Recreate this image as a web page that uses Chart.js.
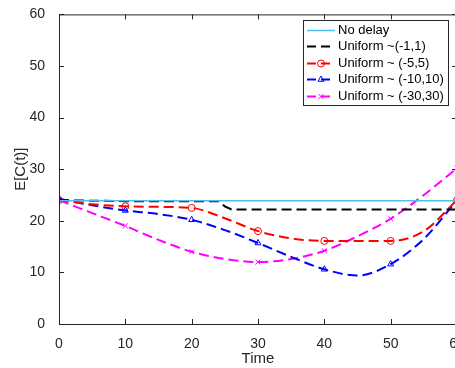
<!DOCTYPE html>
<html>
<head>
<meta charset="utf-8">
<script src="https://cdn.jsdelivr.net/npm/chart.js@4/dist/chart.umd.min.js"></script>
<style>
html,body{margin:0;padding:0;background:#fff;overflow:hidden}
#wrap{width:470px;height:368px}
</style>
</head>
<body>
<div id="wrap"><canvas id="chart" width="470" height="368"></canvas></div>
<script>
// values
const times=[0,5,10,15,20,25,30,35,40,45,50,55,60];
const noDelay=[23.9,23.9,23.9,23.9,23.9,23.9,23.9,23.9,23.9,23.9,23.9,23.9,23.9];
const blackTimes=[0,10,20,24,25,26,30,40,50,60];
const uniform1=[24,23.8,23.8,23.8,22.8,22.2,22.2,22.2,22.2,22.2];
const uniform5=[24,23.2,22.8,22.7,22.5,20.5,18,16.6,16.1,16.1,16.1,18,24];
const uniform10=[24.3,23,22,21.3,20.2,18.2,15.7,13,10.6,9.4,11.6,16.5,24];
const uniform30=[24,21.5,19,16.3,14,12.6,12,12.6,14.2,17,20.4,25,30.2];
const xTicks=[0,10,20,30,40,50,60];
const yTicks=[0,10,20,30,40,50,60];

const FONT="'Liberation Sans', Arial, Helvetica, sans-serif";
const AXIS="#262626";

function pts(xs,ys){
const out=[];
for(let i=0;i<xs.length;i++) out.push({x:xs[i],y:ys[i]});
return out;
}

function markAt(ctx){
const p=ctx.raw;
if(!p) return 0;
return (p.x%10===0)?3.5:0;
}

const datasets=[
{label:"No delay",data:pts(times,noDelay),borderColor:"#4DBEEE",borderWidth:1.5,pointRadius:0,tension:0},
{label:"Uniform ~(-1,1)",data:pts(blackTimes,uniform1),borderColor:"#000000",borderWidth:2,borderDash:[10,5],pointRadius:0,tension:0},
{label:"Uniform ~ (-5,5)",data:pts(times,uniform5),borderColor:"#FF0000",borderWidth:2,borderDash:[10,5],pointStyle:"circle",pointRadius:markAt,pointBorderColor:"#FF0000",pointBackgroundColor:"rgba(0,0,0,0)",pointBorderWidth:1,tension:0.4,cubicInterpolationMode:"monotone"},
{label:"Uniform ~ (-10,10)",data:pts(times,uniform10),borderColor:"#0000FF",borderWidth:2,borderDash:[10,5],pointStyle:"triangle",pointRadius:markAt,pointBorderColor:"#0000FF",pointBackgroundColor:"rgba(0,0,0,0)",pointBorderWidth:1,tension:0.4,cubicInterpolationMode:"monotone"},
{label:"Uniform ~ (-30,30)",data:pts(times,uniform30),borderColor:"#FF00FF",borderWidth:2,borderDash:[10,5],pointStyle:"crossRot",pointRadius:markAt,pointBorderColor:"#FF00FF",pointBackgroundColor:"rgba(0,0,0,0)",pointBorderWidth:1,tension:0.4,cubicInterpolationMode:"monotone"}
];

// inward ticks on all four sides, box, and the legend inside the axes
const matlabLook={
id:"matlabLook",
afterDraw(chart){
const c=chart.ctx;
const a=chart.chartArea;
const xs=chart.scales.x, ys=chart.scales.y;
c.save();
c.strokeStyle=AXIS;
c.lineWidth=1;
c.beginPath();
c.rect(a.left+0.5,a.top+0.5,a.right-a.left,a.bottom-a.top);
c.stroke();
c.beginPath();
xTicks.forEach(v=>{
const px=Math.round(xs.getPixelForValue(v))+0.5;
c.moveTo(px,a.bottom);c.lineTo(px,a.bottom-5);
c.moveTo(px,a.top);c.lineTo(px,a.top+5);
});
yTicks.forEach(v=>{
const py=Math.round(ys.getPixelForValue(v))+0.5;
c.moveTo(a.left,py);c.lineTo(a.left+5,py);
c.moveTo(a.right,py);c.lineTo(a.right-5,py);
});
c.stroke();

// legend
const bx=303.5,by=20.5,bw=145,bh=85;
c.fillStyle="#fff";
c.fillRect(bx,by,bw,bh);
c.strokeStyle=AXIS;
c.lineWidth=1;
c.strokeRect(bx,by,bw,bh);
c.font="13px "+FONT;
c.textBaseline="middle";
datasets.forEach((d,i)=>{
const y=Math.round(30+i*16.4)+0.5;
c.strokeStyle=d.borderColor;
c.lineWidth=d.borderWidth;
c.setLineDash(d.borderDash?[9,5]:[]);
c.beginPath();c.moveTo(307,y);c.lineTo(335,y);c.stroke();
c.setLineDash([]);
if(d.pointStyle){
c.lineWidth=1;
c.fillStyle="rgba(0,0,0,0)";
c.strokeStyle=d.borderColor;
Chart.helpers.drawPoint(c,{pointStyle:d.pointStyle,radius:3.5,borderWidth:1},321,y);
}
c.fillStyle="#000";
c.fillText(d.label,338,y);
});
c.restore();
}
};

new Chart(document.getElementById("chart"),{
type:"line",
data:{datasets:datasets},
options:{
responsive:false,
animation:false,
layout:{padding:{left:0,top:11,right:13,bottom:0}},
plugins:{legend:{display:false},tooltip:{enabled:false}},
scales:{
x:{
type:"linear",min:0,max:60,
afterFit(s){s.height=44;},
afterBuildTicks(s){s.ticks=xTicks.map(v=>({value:v}));},
grid:{display:false},
border:{display:false},
ticks:{color:AXIS,font:{family:FONT,size:14},padding:4,maxRotation:0},
title:{display:true,text:"Time",color:AXIS,font:{family:FONT,size:15},padding:{top:0,bottom:0}}
},
y:{
min:0,max:60,
afterFit(s){s.width=59;},
afterBuildTicks(s){s.ticks=yTicks.map(v=>({value:v}));},
grid:{display:false},
border:{display:false},
ticks:{color:AXIS,font:{family:FONT,size:14},padding:6},
title:{display:true,text:"E[C(t)]",color:AXIS,font:{family:FONT,size:15},padding:{top:12,bottom:0}}
}
}
},
plugins:[matlabLook]
});
</script>
</body>
</html>
